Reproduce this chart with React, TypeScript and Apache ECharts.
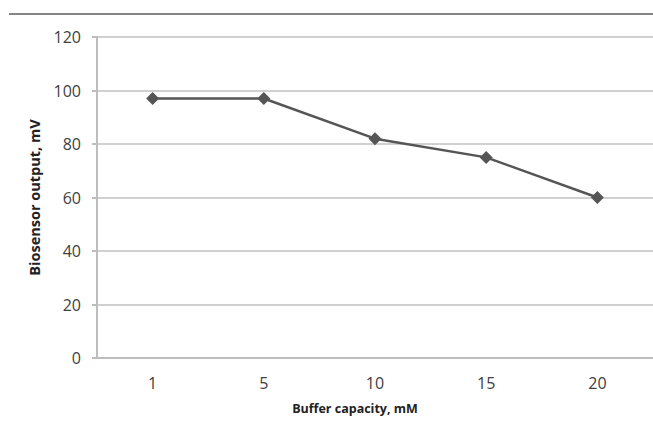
import React, { useEffect, useRef } from "react";
import * as echarts from "echarts";

const categories = ["1", "5", "10", "15", "20"];
const outputValues = [97, 97, 82, 75, 60];
const yTicks = { min: 0, max: 120, interval: 20 };

export default function App() {
  const ref = useRef<HTMLDivElement>(null);
  useEffect(() => {
    if (!ref.current) return;
    const chart = echarts.init(ref.current, null, { renderer: "svg" });
    const font = "'Open Sans', 'Noto Sans', sans-serif";
    chart.setOption({
      animation: false,
      backgroundColor: "#ffffff",
      textStyle: { fontFamily: font },
      grid: { left: 97, right: 0, top: 37, bottom: 65, containLabel: false },
      graphic: [
        {
          type: "line",
          shape: { x1: 9, y1: 14, x2: 653, y2: 14 },
          style: { stroke: "#858585", lineWidth: 2 },
        },
      ],
      xAxis: {
        type: "category",
        data: categories,
        boundaryGap: true,
        axisLine: { show: true, lineStyle: { color: "#bdbdbd", width: 2 } },
        axisTick: { show: false },
        axisLabel: { color: "#404040", fontSize: 16, margin: 17, fontFamily: font },
        name: "Buffer capacity, mM",
        nameLocation: "middle",
        nameGap: 44,
        nameTextStyle: {
          color: "#222",
          fontSize: 12.5,
          fontWeight: "bold",
          fontFamily: font,
          padding: [0, 40, 0, 0],
        },
      },
      yAxis: {
        type: "value",
        min: yTicks.min,
        max: yTicks.max,
        interval: yTicks.interval,
        axisLine: { show: true, lineStyle: { color: "#bdbdbd", width: 2 } },
        axisTick: { show: true, length: 5, lineStyle: { color: "#bdbdbd", width: 2 } },
        axisLabel: { color: "#404040", fontSize: 16, margin: 16, fontFamily: font },
        splitLine: { show: true, lineStyle: { color: "#d0d0d0", width: 2 } },
        name: "Biosensor output, mV",
        nameLocation: "middle",
        nameGap: 55,
        nameTextStyle: { color: "#222", fontSize: 14.5, fontWeight: "bold", fontFamily: font },
      },
      series: [
        {
          type: "line",
          data: outputValues,
          symbol: "diamond",
          symbolSize: 13,
          lineStyle: { color: "#555555", width: 2.5 },
          itemStyle: { color: "#555555" },
        },
      ],
    });
    return () => chart.dispose();
  }, []);
  return (
    <div
      ref={ref}
      style={{ position: "fixed", left: 0, top: 0, width: 653, height: 423, background: "#fff" }}
    />
  );
}
